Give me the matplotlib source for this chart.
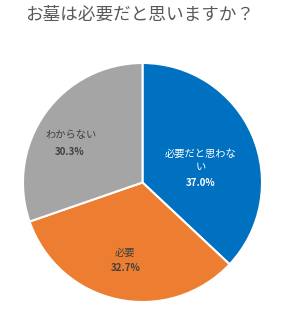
import matplotlib
matplotlib.use("Agg")
import matplotlib.pyplot as plt

plt.rcParams['font.family'] = ['Noto Sans CJK JP', 'DejaVu Sans']

title = "お墓は必要だと思いますか？"
categories = ["必要だと思わない", "必要", "わからない"]
display_names = ["必要だと思わな\nい", "必要", "わからない"]
values = [37.0, 32.7, 30.3]
colors = ["#0070C0", "#ED7D31", "#A5A5A5"]
text_colors = ["#FFFFFF", "#404040", "#404040"]

W, H = 283, 312
fig = plt.figure(figsize=(W / 100, H / 100), dpi=100)
cx, cy, r = 142.5, 182.5, 119.5
ax = fig.add_axes([(cx - r) / W, (H - cy - r) / H, 2 * r / W, 2 * r / H])
ax.pie(values, colors=colors, startangle=90, counterclock=False,
       wedgeprops=dict(edgecolor="white", linewidth=1.5))
ax.set_xlim(-1, 1)
ax.set_ylim(-1, 1)
ax.set_aspect("auto")
ax.axis("off")

# label layout positions (pixel coords of name line center, pct center)
name_pos = [(201, 160.5), (125, 253), (71, 135)]
pct_pos = [(201, 183), (126, 268), (70, 152)]

def to_data(px, py):
    return ((px - cx) / r, (cy - py) / r)

for i, cat in enumerate(categories):
    x, y = to_data(*name_pos[i])
    ax.text(x, y, display_names[i], ha="center", va="center", fontsize=7.4,
            color=text_colors[i], linespacing=1.45)
    x, y = to_data(*pct_pos[i])
    ax.text(x, y, f"{values[i]:.1f}%", ha="center", va="center", fontsize=7.0,
            fontweight="bold", color=text_colors[i])

fig.text(140 / W, 1 - 15 / H, title, ha="center", va="center",
         fontsize=12.7, color="#595959")

fig.savefig("out.png", dpi=100, facecolor="white")
